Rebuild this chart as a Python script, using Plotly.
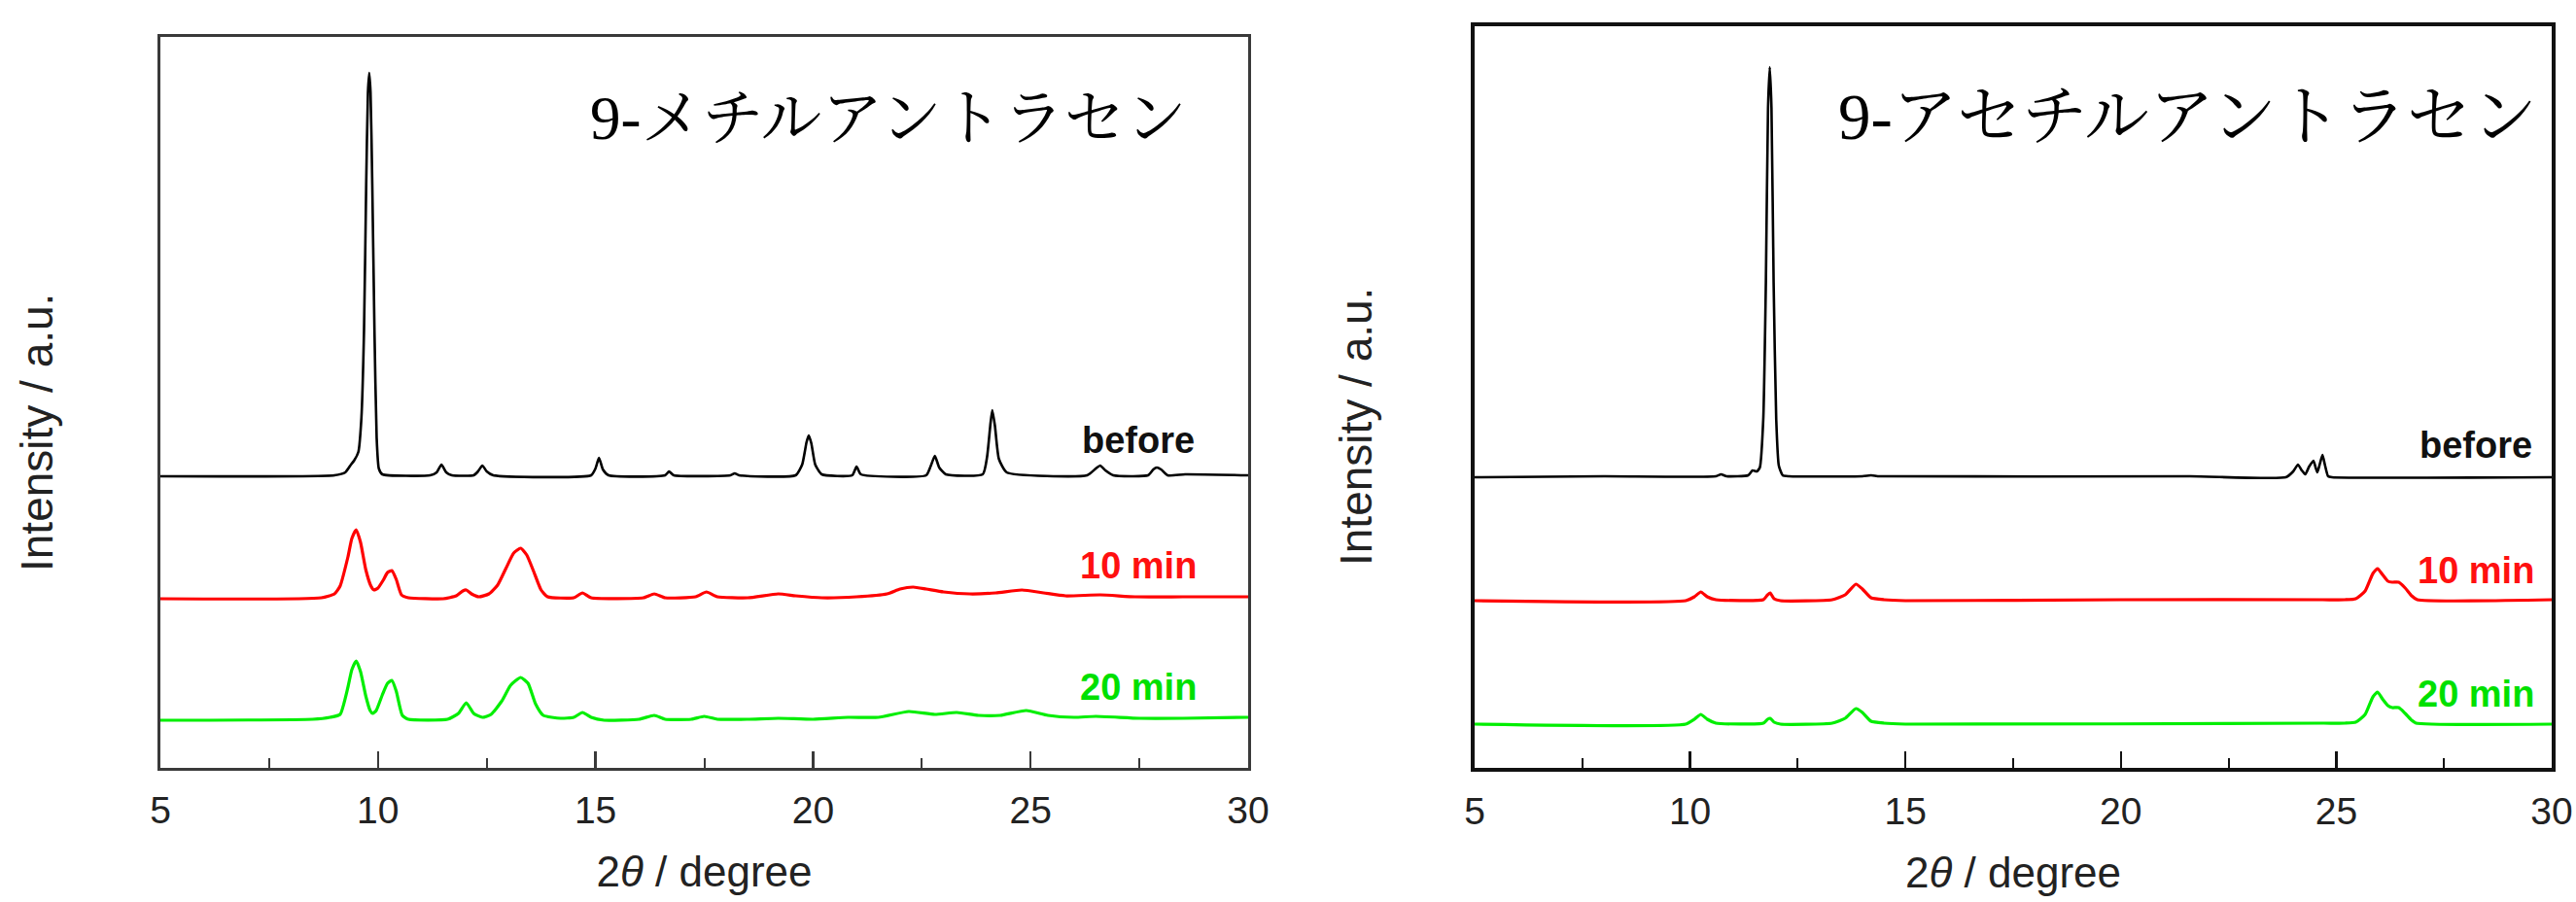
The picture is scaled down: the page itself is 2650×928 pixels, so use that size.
import plotly.graph_objects as go

# ---------------- data ----------------
# Left panel: 9-methylanthracene, intensity above each pattern's own baseline (a.u.)
ma_before_x = [5.0, 9.0, 9.25, 9.38, 9.45, 9.55, 9.62, 9.68, 9.73, 9.77, 9.80, 9.83, 9.87, 9.92, 9.97, 10.02, 10.1,
               11.2, 11.35, 11.46, 11.57, 11.7, 12.2, 12.3, 12.4, 12.5, 12.65, 14.9, 15.0, 15.08, 15.17, 15.3,
               16.6, 16.69, 16.8, 18.1, 18.2, 18.3, 19.6, 19.75, 19.85, 19.9, 19.96, 20.05, 20.2, 20.9, 21.0, 21.1,
               22.6, 22.7, 22.8, 22.9, 23.05, 23.9, 24.0, 24.08, 24.12, 24.18, 24.27, 24.45, 26.3, 26.5, 26.6, 26.72,
               26.9, 27.7, 27.82, 27.9, 28.0, 28.15, 28.55, 30.0]
ma_before_y = [0, 1, 4, 12, 16, 25, 60, 150, 300, 395, 415, 395, 300, 150, 40, 8, 2,
               1, 4, 12, 4, 1, 1, 5, 11, 5, 1, 1, 8, 19, 7, 1,
               1, 5, 1, 1, 3, 1, 1, 12, 35, 42, 34, 12, 2, 1, 10, 2,
               1, 10, 21, 9, 2, 2, 20, 55, 68, 52, 18, 4, 1, 8, 11, 6,
               1, 1, 7, 9, 7, 1, 2, 1]

ma_10_x = [5.0, 8.7, 9.0, 9.13, 9.31, 9.4, 9.5, 9.6, 9.72, 9.84, 9.91, 10.0, 10.12, 10.22, 10.32, 10.42, 10.54, 10.7,
           11.5, 11.8, 11.95, 12.03, 12.15, 12.32, 12.55, 12.75, 12.95, 13.12, 13.28, 13.42, 13.58, 13.75, 13.9,
           14.5, 14.7, 14.9, 16.1, 16.35, 16.6, 17.3, 17.55, 17.8, 18.5, 19.2, 19.6, 20.2, 21.0, 21.7, 22.0, 22.3,
           22.6, 23.0, 23.6, 24.2, 24.8, 25.3, 25.8, 26.6, 27.4, 28.5, 30.0]
ma_10_y = [0, 1, 5, 13, 43, 62, 71, 58, 30, 13, 9, 11, 19, 27, 29, 20, 4, 1,
           0, 3, 8, 9, 5, 2, 5, 14, 32, 47, 52, 45, 28, 9, 2,
           1, 6, 1, 1, 5, 1, 2, 7, 2, 1, 5, 3, 1, 2, 5, 10, 12,
           10, 7, 5, 6, 9, 6, 3, 4, 2, 2, 2]

ma_20_x = [5.0, 8.5, 8.9, 9.13, 9.31, 9.4, 9.5, 9.6, 9.72, 9.82, 9.88, 9.96, 10.1, 10.22, 10.32, 10.42, 10.56, 10.7,
           11.6, 11.85, 12.03, 12.2, 12.4, 12.6, 12.85, 13.05, 13.28, 13.45, 13.62, 13.8, 14.2, 14.5, 14.7, 14.9,
           15.2, 16.0, 16.35, 16.6, 17.2, 17.5, 17.8, 18.5, 19.2, 20.0, 20.8, 21.5, 22.2, 22.8, 23.3, 23.8,
           24.3, 24.9, 25.4, 26.0, 26.5, 27.5, 28.5, 30.0]
ma_20_y = [0, 1, 3, 6, 34, 52, 61, 50, 25, 10, 7, 10, 26, 38, 41, 30, 5, 1,
           1, 7, 18, 7, 3, 6, 20, 36, 44, 38, 17, 5, 2, 3, 8, 3,
           0, 1, 5, 1, 1, 4, 1, 1, 2, 1, 3, 3, 9, 6, 8, 5,
           5, 10, 5, 3, 4, 2, 2, 3]

# Right panel: 9-acetylanthracene
aa_before_x = [5.0, 8.0, 10.6, 10.72, 10.85, 11.35, 11.45, 11.55, 11.62, 11.7, 11.76, 11.81, 11.85, 11.89, 11.94,
               12.0, 12.06, 12.15, 12.3, 14.0, 14.2, 14.4, 21.6, 23.83, 24.0, 24.11, 24.2, 24.28, 24.37, 24.47, 24.52,
               24.56, 24.62, 24.68, 24.74, 24.81, 24.9, 30.0]
aa_before_y = [0, 1, 1, 3, 1, 2, 7, 6, 10, 60, 200, 380, 422, 380, 200,
               60, 12, 2, 1, 1, 2, 1, 1, 0, 6, 13, 7, 3, 11, 17, 10,
               5, 14, 23, 12, 1, 0, 0]

aa_10_x = [5.0, 9.9, 10.1, 10.25, 10.4, 10.6, 11.7, 11.8, 11.86, 11.95, 12.1, 13.3, 13.6, 13.85, 14.0, 14.2, 14.5,
           15.0, 20.0, 24.68, 25.2, 25.45, 25.67, 25.85, 25.96, 26.07, 26.2, 26.3, 26.45, 26.6, 26.75, 26.88, 30.0]
aa_10_y = [0, 0, 4, 9, 4, 1, 1, 6, 8, 2, 0, 1, 6, 17, 12, 3, 1,
           0, 1, 1, 1, 2, 10, 28, 33, 27, 20, 19, 19, 13, 5, 1, 1]

aa_20_x = [5.0, 9.9, 10.1, 10.25, 10.4, 10.6, 11.7, 11.8, 11.86, 11.95, 12.1, 13.3, 13.6, 13.85, 14.0, 14.2, 14.5,
           15.0, 24.7, 25.2, 25.45, 25.67, 25.85, 25.96, 26.07, 26.2, 26.3, 26.45, 26.6, 26.75, 26.85, 30.0]
aa_20_y = [0, 0, 5, 10, 5, 1, 1, 5, 6, 2, 0, 1, 6, 16, 12, 3, 1,
           0, 1, 1, 2, 10, 28, 33, 26, 19, 17, 17, 11, 4, 1, 0]

series_labels = ["before", "10 min", "20 min"]
panel_titles = ["9-メチルアントラセン", "9-アセチルアントラセン"]
x_ticks = [5, 10, 15, 20, 25, 30]

# ---------------- styling ----------------
COLORS = ["#000000", "#ff0000", "#00ee00"]
LABEL_COLORS = ["#111111", "#ff1010", "#00e000"]
LEFT_OFFSETS = [300, 174, 49]     # vertical stacking offsets (a.u.)
RIGHT_OFFSETS = [299, 172, 45]

W, H = 2650, 928
SANS = "Liberation Sans, Arial, sans-serif"

fig = go.Figure()

left = [(ma_before_x, ma_before_y), (ma_10_x, ma_10_y), (ma_20_x, ma_20_y)]
right = [(aa_before_x, aa_before_y), (aa_10_x, aa_10_y), (aa_20_x, aa_20_y)]
WIDTHS = [2.6, 3.2, 3.2]

for i, (xs, ys) in enumerate(left):
    fig.add_trace(go.Scatter(x=xs, y=[v + LEFT_OFFSETS[i] for v in ys], mode="lines",
                             line=dict(color=COLORS[i], width=WIDTHS[i], shape="spline", smoothing=0.5),
                             xaxis="x", yaxis="y", showlegend=False, name=series_labels[i]))
for i, (xs, ys) in enumerate(right):
    fig.add_trace(go.Scatter(x=xs, y=[v + RIGHT_OFFSETS[i] for v in ys], mode="lines",
                             line=dict(color=COLORS[i], width=WIDTHS[i], shape="spline", smoothing=0.5),
                             xaxis="x2", yaxis="y2", showlegend=False, name=series_labels[i]))

def xaxis_cfg(domain, lw, lc, anchor):
    return dict(domain=domain, range=[5, 30], tickvals=x_ticks, ticks="inside", ticklen=17, tickwidth=2.5,
                tickcolor=lc, showline=True, mirror=True, linewidth=lw, linecolor=lc, showgrid=False,
                zeroline=False, tickfont=dict(family=SANS, size=39, color="#222222"), anchor=anchor,
                automargin=False, ticklabelstandoff=7,
                minor=dict(dtick=2.5, tick0=5, ticks="inside", ticklen=10, tickwidth=2, tickcolor=lc),
                title=dict(text="2<i>θ</i> / degree", font=dict(family=SANS, size=44, color="#222222"),
                           standoff=28))

def yaxis_cfg(domain, rng, lw, lc, anchor):
    return dict(domain=domain, range=rng, showticklabels=False, ticks="", showline=True, mirror=True,
                linewidth=lw, linecolor=lc, showgrid=False, zeroline=False, anchor=anchor, automargin=False)

fig.update_layout(
    width=W, height=H, autosize=False,
    margin=dict(l=0, r=0, t=0, b=0, autoexpand=False),
    paper_bgcolor="white", plot_bgcolor="white",
    xaxis=xaxis_cfg([165 / W, 1284 / W], 3, "#3a3a3a", "y"),
    yaxis=yaxis_cfg([1 - 790 / H, 1 - 38 / H], [0, 752], 3, "#3a3a3a", "x"),
    xaxis2=xaxis_cfg([1517 / W, 2625 / W], 4, "#111111", "y2"),
    yaxis2=yaxis_cfg([1 - 790 / H, 1 - 27 / H], [0, 763], 4, "#111111", "x2"),
)

ann = []
# panel titles
ann.append(dict(text=panel_titles[0], x=914 / W, y=1 - 122 / H, xref="paper", yref="paper",
                showarrow=False, xanchor="center", yanchor="middle",
                font=dict(family="Liberation Serif, Noto Serif CJK JP, Noto Sans CJK JP", size=63, color="#000")))
ann.append(dict(text=panel_titles[1], x=2250 / W, y=1 - 120 / H, xref="paper", yref="paper",
                showarrow=False, xanchor="center", yanchor="middle",
                font=dict(family="Liberation Serif, Noto Serif CJK JP, Noto Sans CJK JP", size=67, color="#000")))
# y-axis titles
for xc, yc in [(38, 445), (1395, 439)]:
    ann.append(dict(text="Intensity / a.u.", x=xc / W, y=1 - yc / H, xref="paper", yref="paper",
                    showarrow=False, textangle=-90, xanchor="center", yanchor="middle",
                    font=dict(family=SANS, size=46, color="#222222")))
# series labels
left_label_pos = [(1231, 453), (1233, 582), (1233, 707)]
right_label_pos = [(2607, 458), (2609, 587), (2609, 714)]
for i in range(3):
    for (xr, yc) in (left_label_pos[i], right_label_pos[i]):
        ann.append(dict(text="<b>" + series_labels[i] + "</b>", x=xr / W, y=1 - yc / H, xref="paper", yref="paper",
                        showarrow=False, xanchor="right", yanchor="middle",
                        font=dict(family=SANS, size=38, color=LABEL_COLORS[i])))
fig.update_layout(annotations=ann)

fig.write_html("out.html", config={"displayModeBar": False, "staticPlot": True},
               post_script="document.body.style.margin='0px';document.body.style.padding='0px';")
